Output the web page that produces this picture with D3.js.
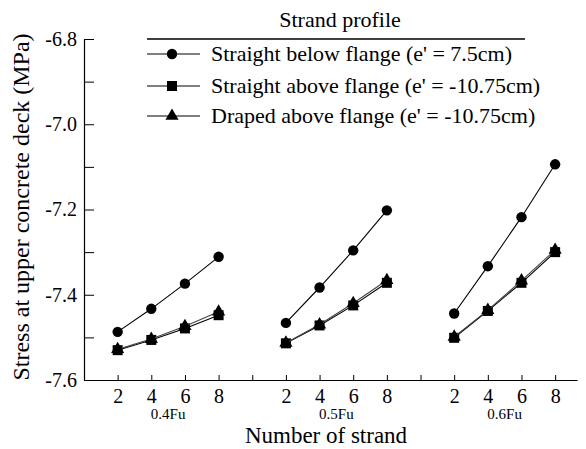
<!DOCTYPE html>
<html><head><meta charset="utf-8">
<script src="https://cdn.jsdelivr.net/npm/d3@7"></script>
<style>
html,body{margin:0;padding:0;background:#fff;}
svg{display:block;}
</style></head>
<body><svg id="chart" width="586" height="449"></svg>
<script>
const groups = ["0.4Fu", "0.5Fu", "0.6Fu"];
const strands = [2, 4, 6, 8];
const seriesNames = ["Straight below flange (e' = 7.5cm)", "Straight above flange (e' = -10.75cm)", "Draped above flange (e' = -10.75cm)"];
const straightBelow = [[-7.487, -7.433, -7.374, -7.311], [-7.466, -7.383, -7.296, -7.202], [-7.444, -7.333, -7.218, -7.094]];
const straightAbove = [[-7.530, -7.506, -7.479, -7.448], [-7.514, -7.472, -7.425, -7.372], [-7.501, -7.438, -7.372, -7.300]];
const drapedAbove  = [[-7.528, -7.504, -7.474, -7.440], [-7.513, -7.470, -7.420, -7.366], [-7.499, -7.436, -7.367, -7.295]];
const yTicks = [-7.6, -7.5, -7.4, -7.3, -7.2, -7.1, -7.0, -6.9, -6.8];
const legendTitle = "Strand profile";
const xTitle = "Number of strand";
const yTitle = "Stress at upper concrete deck (MPa)";

const FONT = '"Liberation Serif", "Times New Roman", Tinos, FreeSerif';
const svg = d3.select("#chart");
const slot = (g, i) => g * (strands.length + 1) + i + 1;
const x = d3.scaleLinear().domain([0, 14.65]).range([84, 577]);
const y = d3.scaleLinear().domain([-7.6, -6.8]).range([380, 39]);

// axes
const xTickVals = d3.range(1, 15);
const xAx = svg.append("g").attr("transform", `translate(0,${y(-7.6)})`)
  .call(d3.axisBottom(x).tickValues(xTickVals).tickSizeInner(-5).tickSizeOuter(0)
    .tickFormat(k => (k % 5 === 0) ? "" : strands[(k % 5) - 1]));
xAx.attr("font-family", FONT);
xAx.select(".domain").attr("stroke", "#000").attr("stroke-width", 1.2);
xAx.selectAll(".tick line").attr("stroke", "#000");
xAx.selectAll(".tick text").attr("font-family", FONT).attr("font-size", 20).attr("fill", "#000").attr("dy", "0.9em").attr("y", 5);

const yAx = svg.append("g").attr("transform", `translate(${x(0)},0)`)
  .call(d3.axisLeft(y).tickValues(yTicks).tickSizeInner(-10).tickSizeOuter(0).tickPadding(7)
    .tickFormat((d, i) => i % 2 === 0 ? d.toFixed(1) : ""));
yAx.attr("font-family", FONT);
yAx.select(".domain").attr("stroke", "#000").attr("stroke-width", 1.2);
yAx.selectAll(".tick line").attr("stroke", "#000");
yAx.selectAll(".tick text").attr("font-family", FONT).attr("font-size", 20).attr("fill", "#000");

// group labels
svg.append("g").selectAll("text").data(groups).join("text")
  .attr("x", (d, g) => (x(slot(g, 0)) + x(slot(g, strands.length - 1))) / 2)
  .attr("y", 419).attr("text-anchor", "middle").attr("font-family", FONT).attr("font-size", 15).text(d => d);

svg.append("text").attr("x", 326).attr("y", 443).attr("text-anchor", "middle")
  .attr("font-family", FONT).attr("font-size", 23).text(xTitle);
svg.append("text").attr("transform", "translate(29,207) rotate(-90)").attr("text-anchor", "middle")
  .attr("font-family", FONT).attr("font-size", 24).text(yTitle);

// series
const allSeries = [
  {vals: straightBelow, shape: d3.symbolCircle, size: 85, color: "#000"},
  {vals: straightAbove, shape: d3.symbolSquare, size: 100, color: "#000"},
  {vals: drapedAbove, shape: d3.symbolTriangle, size: 75, color: "#444"}
];
const line = d3.line().x(d => x(d.k)).y(d => y(d.v));
allSeries.forEach((s, si) => {
  s.vals.forEach((row, g) => {
    const pts = row.map((v, i) => ({k: slot(g, i), v}));
    svg.append("path").datum(pts).attr("d", line).attr("fill", "none")
      .attr("stroke", s.color).attr("stroke-width", 1.1);
    svg.append("g").selectAll("path").data(pts).join("path")
      .attr("transform", d => `translate(${x(d.k)},${y(d.v)})`)
      .attr("d", d3.symbol(s.shape, s.size)).attr("fill", "#000");
  });
});

// legend
const lg = svg.append("g");
lg.append("text").attr("x", 340).attr("y", 27).attr("text-anchor", "middle")
  .attr("font-family", FONT).attr("font-size", 22).text(legendTitle);
lg.append("line").attr("x1", 147).attr("x2", 525).attr("y1", 39).attr("y2", 39).attr("stroke", "#000").attr("stroke-width", 1.4);
const ly = [54, 86, 116];
allSeries.forEach((s, i) => {
  lg.append("line").attr("x1", 147).attr("x2", 200).attr("y1", ly[i]).attr("y2", ly[i]).attr("stroke", "#000").attr("stroke-width", 1.1);
  lg.append("path").attr("transform", `translate(172,${ly[i]})`).attr("d", d3.symbol(s.shape, s.size)).attr("fill", "#000");
  lg.append("text").attr("x", 211).attr("y", ly[i]).attr("dy", "0.33em")
    .attr("font-family", FONT).attr("font-size", 22).text(seriesNames[i]);
});
</script></body></html>
